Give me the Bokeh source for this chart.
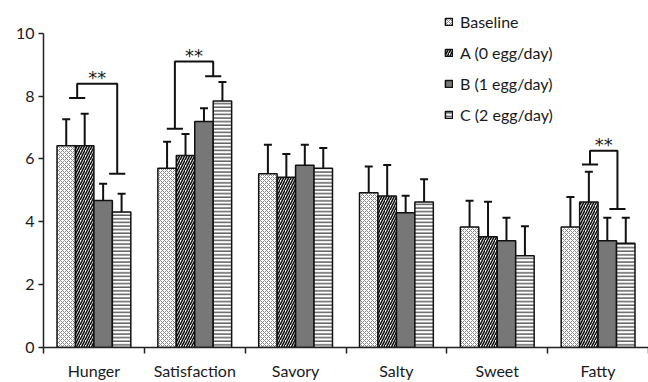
from bokeh.plotting import figure
from bokeh.models import (ColumnDataSource, Range1d, FixedTicker, LinearAxis,
                          Whisker, TeeHead, Legend, LegendItem)
from bokeh.core.properties import value
from bokeh.embed import file_html
from bokeh.resources import INLINE

# ---------------- data ----------------
categories = ["Hunger", "Satisfaction", "Savory", "Salty", "Sweet", "Fatty"]
series_names = ["Baseline", "A (0 egg/day)", "B (1 egg/day)", "C (2 egg/day)"]
baseline = [6.42, 5.70, 5.53, 4.92, 3.83, 3.83]
baseline_err = [0.84, 0.85, 0.92, 0.84, 0.84, 0.96]
a_vals = [6.42, 6.11, 5.42, 4.82, 3.52, 4.63]
a_err = [1.02, 0.68, 0.74, 0.99, 1.12, 0.96]
b_vals = [4.68, 7.19, 5.80, 4.29, 3.40, 3.40]
b_err = [0.53, 0.42, 0.65, 0.54, 0.73, 0.73]
c_vals = [4.31, 7.84, 5.70, 4.63, 2.92, 3.32]
c_err = [0.58, 0.61, 0.65, 0.72, 0.94, 0.81]
y_ticks = [0, 2, 4, 6, 8, 10]

# significance brackets (category index, left/right leg offsets, foot heights, top height)
br_cat = [0, 1, 5]
br_left = [-0.166, -0.197, -0.080]
br_right = [0.231, 0.183, 0.192]
br_left_low = [7.94, 6.96, 5.82]
br_right_low = [5.53, 8.63, 4.41]
br_top = [8.39, 9.10, 6.26]
br_label = ["**", "**", "**"]

# ---------------- styling ----------------
FONT = "Lato"
TXT = "#1a1a1a"
offsets = [-0.2745, -0.0915, 0.0915, 0.2745]
bar_w = 0.183
styles = [
    dict(fill_color="white", hatch_pattern="diagonal_cross", hatch_color="#8a8a8a",
         hatch_scale=4.0, hatch_weight=1.0),
    dict(fill_color="white", hatch_pattern="right_diagonal_line", hatch_color="#111111",
         hatch_scale=5.0, hatch_weight=1.6),
    dict(fill_color="#777777"),
    dict(fill_color="white", hatch_pattern="horizontal_line", hatch_color="#111111",
         hatch_scale=3.6, hatch_weight=1.0),
]

p = figure(width=648, height=382, output_backend="svg", toolbar_location=None,
           x_range=Range1d(0, 6), y_range=Range1d(0, 11.04),
           min_border_left=43, min_border_right=0, min_border_top=0,
           min_border_bottom=32, x_axis_type=None, y_axis_type=None)
p.outline_line_color = None
p.xgrid.visible = False
p.ygrid.visible = False
p.background_fill_color = "white"

# y axis (line limited to 0..10)
yax = LinearAxis(ticker=FixedTicker(ticks=y_ticks), bounds=(0, 10))
yax.axis_line_color = "#222222"
yax.axis_line_width = 1.5
yax.major_tick_line_color = "#222222"
yax.major_tick_line_width = 1.5
yax.major_tick_out = 5
yax.major_tick_in = 0
yax.minor_tick_out = 0
yax.minor_tick_in = 0
yax.major_label_standoff = 4
yax.major_label_text_font = FONT
yax.major_label_text_font_size = "16px"
yax.major_label_text_color = TXT
p.add_layout(yax, "left")

# x axis: labels at category centres, ticks at boundaries (minor ticks)
centers = [i + 0.5 for i in range(len(categories))]
bounds = list(range(len(categories) + 1))
xax = LinearAxis(ticker=FixedTicker(ticks=centers, minor_ticks=bounds))
xax.major_label_overrides = {c: n for c, n in zip(centers, categories)}
xax.axis_line_color = "#222222"
xax.axis_line_width = 1.5
xax.major_tick_out = 0
xax.major_tick_in = 0
xax.minor_tick_out = 6
xax.minor_tick_in = 0
xax.minor_tick_line_color = "#222222"
xax.minor_tick_line_width = 1.5
xax.major_label_standoff = 7
xax.major_label_text_font = FONT
xax.major_label_text_font_size = "16px"
xax.major_label_text_color = TXT
p.add_layout(xax, "below")

vals = [baseline, a_vals, b_vals, c_vals]
errs = [baseline_err, a_err, b_err, c_err]
items = []
for k in range(4):
    xs = [i + 0.5 + offsets[k] for i in range(len(categories))]
    src = ColumnDataSource(dict(x=xs, top=vals[k],
                                upper=[v + e for v, e in zip(vals[k], errs[k])]))
    r = p.vbar(x="x", top="top", width=bar_w, bottom=0, source=src,
               line_color="#111111", line_width=1.5, **styles[k])
    w = Whisker(source=src, base="x", lower="top", upper="upper", dimension="height",
                line_color="#111111", line_width=2, lower_head=None,
                upper_head=TeeHead(size=8, line_color="#111111", line_width=2))
    p.add_layout(w)
    items.append(LegendItem(label=series_names[k], renderers=[r]))

# brackets
foot = 0.08
xs_l, ys_l = [], []
for c, l, r_, ll, rl, t in zip(br_cat, br_left, br_right, br_left_low, br_right_low, br_top):
    cx = c + 0.5
    xs_l.append([cx + l, cx + l, cx + r_, cx + r_])
    ys_l.append([ll, t, t, rl])
    xs_l.append([cx + l - foot, cx + l + foot])
    ys_l.append([ll, ll])
    xs_l.append([cx + r_ - foot, cx + r_ + foot])
    ys_l.append([rl, rl])
p.multi_line(xs=xs_l, ys=ys_l, line_color="#111111", line_width=2)

star_x = [c + 0.5 + (l + r_) / 2 for c, l, r_ in zip(br_cat, br_left, br_right)]
p.text(x=star_x, y=br_top, text=br_label, text_align="center",
       text_baseline="alphabetic", y_offset=-6,
       text_font=value("DejaVu Sans"), text_font_size="18px", text_color=TXT)

legend = Legend(items=items, location=(401, 223))
legend.padding = 0
legend.margin = 0
legend.border_line_alpha = 0
legend.background_fill_alpha = 0
legend.glyph_width = 9
legend.glyph_height = 9
legend.label_height = 16
legend.spacing = 12
legend.label_standoff = 7
legend.label_text_font = FONT
legend.label_text_font_size = "16px"
legend.label_text_color = TXT
p.add_layout(legend)

open("out.html", "w").write(file_html(p, INLINE))
